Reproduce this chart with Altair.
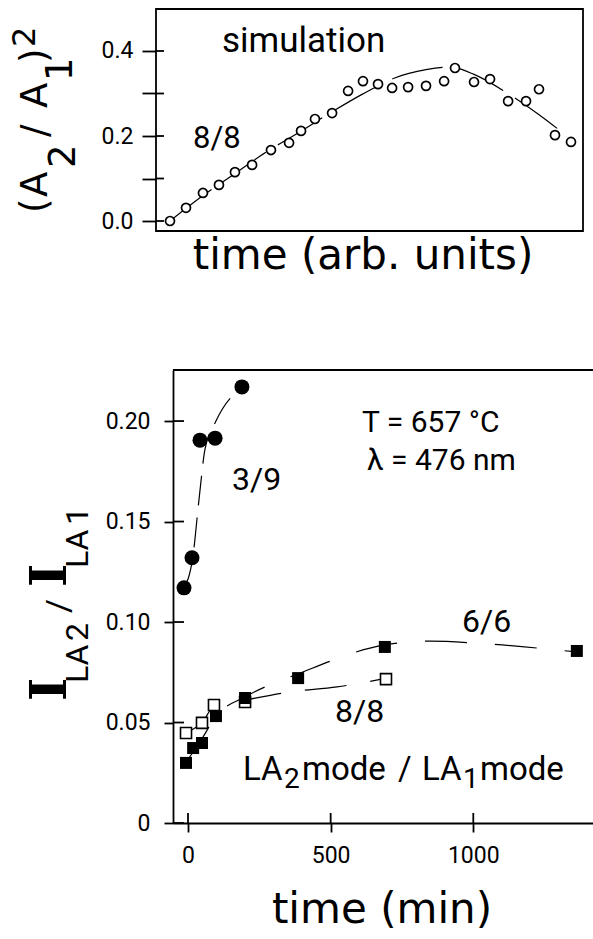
import altair as alt
import pandas as pd

# ---------------- data ----------------
# top panel: simulation, time in arbitrary units
sim_t = [0, 1.0, 2.06, 3.06, 4.06, 5.13, 6.31, 7.44, 8.19, 9.06, 10.13, 11.13, 12.06,
         13.0, 13.88, 14.88, 16.0, 17.13, 17.81, 19.0, 20.0, 21.13, 22.25, 23.06, 24.06, 25.06]
sim_r = [0.0, 0.031, 0.066, 0.085, 0.115, 0.132, 0.167, 0.184, 0.212, 0.240, 0.254, 0.306, 0.329,
         0.322, 0.313, 0.315, 0.318, 0.329, 0.360, 0.327, 0.334, 0.282, 0.282, 0.310, 0.202, 0.186]
simfit_t = [0, 2, 4, 6, 8, 10, 12, 14, 16, 17.5, 19, 21, 23, 24.5]
simfit_r = [0.0, 0.058, 0.11, 0.162, 0.207, 0.254, 0.298, 0.336, 0.356, 0.362, 0.345, 0.303, 0.252, 0.209]
top_ticks = [0, 0.1, 0.2, 0.3, 0.4]

# bottom panel: measurement, time in min
c39_t = [-14, 14, 42, 95, 189]
c39_r = [0.117, 0.132, 0.1905, 0.1915, 0.217]
c39fit_t = [-14, 17.5, 38.6, 59.6, 98, 189]
c39fit_r = [0.117, 0.133, 0.161, 0.186, 0.200, 0.217]

s66_t = [-7, 18, 49, 98, 200, 386, 690, 1363]
s66_r = [0.0299, 0.0373, 0.0398, 0.0532, 0.0622, 0.0721, 0.0876, 0.0856]
s66fit_t = [-7, 42, 98, 200, 393, 690, 848, 1048, 1363]
s66fit_r = [0.0303, 0.0403, 0.0532, 0.0627, 0.0746, 0.0886, 0.0905, 0.0891, 0.0851]

s88_t = [-7, 49, 91, 200, 694]
s88_r = [0.0448, 0.0498, 0.0587, 0.0602, 0.0716]
s88fit_t = [-7, 53, 91, 200, 357, 522, 697]
s88fit_r = [0.0448, 0.0507, 0.0582, 0.0612, 0.0652, 0.0677, 0.0721]

bot_yticks = [0, 0.05, 0.10, 0.15, 0.20]
bot_xticks = [0, 500, 1000]

# ---------------- layout (page pixels) ----------------
W, H = 593, 939
T_L, T_R, T_T, T_B = 156, 583, 9, 231          # top frame
B_L, B_R, B_T, B_B = 173, 593, 370, 823        # bottom axes

one = pd.DataFrame({"k": [0]})
SANS = "Roboto"
WIDE = "DejaVu Sans"
SERIF = "DejaVu Serif"


def txt(s, x, y, size, font=SANS, angle=0, align="left", baseline="alphabetic", weight="normal"):
    kw = dict(text=s, font=font, fontSize=size, align=align, baseline=baseline,
              color="black", fontWeight=weight)
    if angle:
        kw["angle"] = angle
    return alt.Chart(one).mark_text(**kw).encode(x=alt.value(x), y=alt.value(y))


# ---------------- top panel ----------------
xs_top = alt.Scale(domain=[-0.875, 25.81], range=[T_L, T_R], nice=False, zero=False)
ys_top = alt.Scale(domain=[-0.0235, 0.4988], range=[T_B, T_T], nice=False, zero=False)

y_axis_top = alt.Axis(orient="left", offset=-T_L, values=top_ticks,
                      labelExpr="round(datum.value*10) % 2 == 0 ? format(datum.value, '.1f') : ''",
                      tickSize=14, tickWidth=1.8, tickColor="black", domain=False, grid=False,
                      labelFont=SANS, labelFontSize=23, labelColor="black", labelPadding=9, title=None)

top_fit = pd.DataFrame({"t": simfit_t, "r": simfit_r})
top_pts = pd.DataFrame({"t": sim_t, "r": sim_r})
top_tk = pd.DataFrame({"v": top_ticks})

t_frame = alt.Chart(one).mark_rect(fillOpacity=0, stroke="black", strokeWidth=1.8).encode(
    x=alt.value(T_L), x2=alt.value(T_R), y=alt.value(T_T), y2=alt.value(T_B))
t_line = alt.Chart(top_fit).mark_line(color="black", strokeWidth=1.2, strokeDash=[52, 14],
                                      interpolate="monotone").encode(
    x=alt.X("t:Q", scale=xs_top, axis=None),
    y=alt.Y("r:Q", scale=ys_top, axis=y_axis_top))
t_pts = alt.Chart(top_pts).mark_point(shape="circle", size=81, filled=True, fill="white",
                                      fillOpacity=1, stroke="black", strokeWidth=1.7, opacity=1).encode(
    x=alt.X("t:Q", scale=xs_top), y=alt.Y("r:Q", scale=ys_top))
t_inner = alt.Chart(top_tk).mark_rule(color="black", strokeWidth=1.8).encode(
    y=alt.Y("v:Q", scale=ys_top), x=alt.value(T_L), x2=alt.value(T_L + 8))

TY = 37
top_texts = [
    txt("simulation", 222, 52, 35),
    txt("8/8", 193, 148, 31),
    txt("time (arb. units)", 363, 269, 42, font=WIDE, align="center"),
    # (A2 / A1)^2, rotated to read upwards
    txt("(", 47, 213, TY, font=WIDE, angle=270),
    txt("A", 47, 197, TY, font=WIDE, angle=270),
    txt("2", 75, 168, TY, font=WIDE, angle=270),
    txt("/", 47, 137, TY, font=WIDE, angle=270),
    txt("A", 47, 108, TY, font=WIDE, angle=270),
    txt("1", 72, 81, TY, font=WIDE, angle=270),
    txt(")", 47, 63, TY, font=WIDE, angle=270),
    txt("2", 35, 47, 32, font=WIDE, angle=270),
]

top = alt.layer(t_frame, t_inner, t_line, t_pts, *top_texts)

# ---------------- bottom panel ----------------
xs_bot = alt.Scale(domain=[-52.6, 1419.6], range=[B_L, B_R], nice=False, zero=False)
ys_bot = alt.Scale(domain=[0, 0.2254], range=[B_B, B_T], nice=False, zero=False)

y_axis_bot = alt.Axis(orient="left", offset=-B_L, values=bot_yticks,
                      labelExpr="datum.value == 0 ? '0' : format(datum.value, '.2f')",
                      tickSize=9, tickWidth=1.8, tickColor="black",
                      domain=True, domainColor="black", domainWidth=1.8, grid=False,
                      labelFont=SANS, labelFontSize=23, labelColor="black", labelPadding=14, title=None)
x_axis_bot = alt.Axis(orient="bottom", offset=B_B - H, values=bot_xticks, format="d",
                      tickSize=9, tickWidth=1.8, tickColor="black",
                      domain=True, domainColor="black", domainWidth=1.8, grid=False,
                      labelFont=SANS, labelFontSize=23, labelColor="black", labelPadding=12, title=None)

d_c39 = pd.DataFrame({"t": c39_t, "r": c39_r})
d_c39f = pd.DataFrame({"t": c39fit_t, "r": c39fit_r})
d_s66 = pd.DataFrame({"t": s66_t, "r": s66_r})
d_s66f = pd.DataFrame({"t": s66fit_t, "r": s66fit_r})
d_s88 = pd.DataFrame({"t": s88_t, "r": s88_r})
d_s88f = pd.DataFrame({"t": s88fit_t, "r": s88fit_r})
d_ytk = pd.DataFrame({"v": bot_yticks})
d_xtk = pd.DataFrame({"v": bot_xticks})


def X(**k):
    return alt.X("t:Q", scale=xs_bot, **k)


def Y(**k):
    return alt.Y("r:Q", scale=ys_bot, **k)


b_base = alt.Chart(d_c39f).mark_line(color="black", strokeWidth=1.2, strokeDash=[30, 12],
                                     interpolate="monotone").encode(
    x=X(axis=x_axis_bot), y=Y(axis=y_axis_bot))
b_l66 = alt.Chart(d_s66f).mark_line(color="black", strokeWidth=1.2, strokeDash=[42, 28],
                                    interpolate="monotone").encode(x=X(), y=Y())
b_l88 = alt.Chart(d_s88f).mark_line(color="black", strokeWidth=1.2, strokeDash=[42, 24],
                                    interpolate="monotone").encode(x=X(), y=Y())
b_c39 = alt.Chart(d_c39).mark_point(shape="circle", size=225, filled=True, fill="black",
                                    opacity=1, strokeWidth=0).encode(x=X(), y=Y())
b_s88 = alt.Chart(d_s88).mark_point(shape="square", size=121, filled=True, fill="white",
                                    fillOpacity=1, stroke="black", strokeWidth=1.6, opacity=1).encode(x=X(), y=Y())
b_s66 = alt.Chart(d_s66).mark_point(shape="square", size=144, filled=True, fill="black",
                                    opacity=1, strokeWidth=0).encode(x=X(), y=Y())
b_yin = alt.Chart(d_ytk).mark_rule(color="black", strokeWidth=1.8).encode(
    y=alt.Y("v:Q", scale=ys_bot), x=alt.value(B_L), x2=alt.value(B_L + 11))
b_xin = alt.Chart(d_xtk).mark_rule(color="black", strokeWidth=1.8).encode(
    x=alt.X("v:Q", scale=xs_bot), y=alt.value(B_B - 10), y2=alt.value(B_B))
b_topline = alt.Chart(one).mark_rule(color="black", strokeWidth=1.8).encode(
    y=alt.value(B_T), x=alt.value(B_L), x2=alt.value(B_R))

LY = 33
bot_texts = [
    txt("T = 657 °C", 362, 432, 30),
    txt("λ = 476 nm", 367, 470, 30),
    txt("3/9", 232, 490, 32),
    txt("6/6", 462, 632, 32),
    txt("8/8", 335, 722, 32),
    # LA2mode / LA1mode
    txt("LA", 243, 780, LY),
    txt("2", 284, 788, 28),
    txt("mode", 302, 780, LY),
    txt("/", 398, 780, LY),
    txt("LA", 422, 780, LY),
    txt("1", 463, 788, 28),
    txt("mode", 480, 780, LY),
    txt("time (min)", 382, 923, 42, font=WIDE, align="center"),
    # I_LA2 / I_LA1, rotated to read upwards
    txt("I", 66, 701, 50, font=SERIF, angle=270, weight="bold"),
    txt("LA", 88, 683, 32, angle=270),
    txt("2", 88, 641, 32, angle=270),
    txt("/", 70, 613, 34, angle=270),
    txt("I", 66, 587, 50, font=SERIF, angle=270, weight="bold"),
    txt("LA", 88, 568, 32, angle=270),
    txt("1", 88, 525, 32, angle=270),
]

bottom = alt.layer(b_topline, b_yin, b_xin, b_base, b_l66, b_l88,
                   b_c39, b_s88, b_s66, *bot_texts)

chart = alt.layer(top, bottom).resolve_scale(
    x="independent", y="independent"
).resolve_axis(
    x="independent", y="independent"
).properties(
    width=W, height=H, padding=0, background="white",
    autosize=alt.AutoSizeParams(type="none")
).configure_view(strokeOpacity=0)

chart.save("out.html", embed_options={"renderer": "svg", "actions": False})
